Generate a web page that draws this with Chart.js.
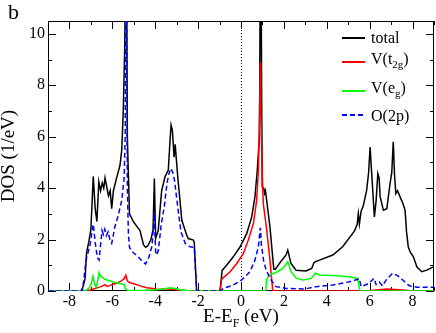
<!DOCTYPE html>
<html lang="en">
<head>
  <meta charset="UTF-8" />
  <title>DOS</title>
  <style>
    body {
      margin: 0;
      background: #fff;
    }
    #wrap {
      position: relative;
      width: 436px;
      height: 333px;
      font-family: "Liberation Serif", serif;
      color: #000;
    }
    #panel {
      position: absolute;
      left: 8px;
      top: 1px;
      font-size: 22px;
      line-height: 22px;
    }
    #xlabel {
      position: absolute;
      left: 0;
      width: 482px;
      text-align: center;
      top: 306px;
      font-size: 19px;
      line-height: 19px;
    }
    .sub {
      position: relative;
      top: 5px;
      font-size: 12px;
    }
    .row {
      position: absolute;
      left: 371px;
      font-size: 16px;
      line-height: 16px;
      white-space: nowrap;
    }
    .row .sub {
      font-size: 11px;
      top: 4px;
    }
    .swatch {
      position: absolute;
      left: 342px;
      width: 23px;
      height: 2px;
    }
  </style>
</head>
<body>
  <div id="wrap">
    <canvas id="dos"></canvas>
    <div id="panel">b</div>
    <div id="xlabel">E-E<span class="sub">F</span> (eV)</div>
    <div id="legend"></div>
  </div>

  <script src="https://cdn.jsdelivr.net/npm/chart.js"></script>
  <script>
    // tick labels
    const xTicks = [-8, -6, -4, -2, 0, 2, 4, 6, 8];
    const yTicks = [0, 2, 4, 6, 8, 10];
    const fermiEnergy = 0;

    // [E - EF (eV), DOS (1/eV)]
    const totalDos = [
      [-9, 0], [-7.45, 0], [-7.35, 0.2], [-7.27, 0.5], [-7.2, 1.5], [-7.1, 1.9], [-7.0, 2.4],
      [-6.89, 4.45], [-6.8, 3.2], [-6.72, 2.7], [-6.63, 4.25], [-6.55, 3.9], [-6.47, 4.2],
      [-6.4, 4.0], [-6.34, 4.4], [-6.25, 4.0], [-6.18, 3.7], [-6.1, 3.9], [-6.03, 3.2],
      [-5.95, 3.9], [-5.8, 4.4], [-5.64, 4.9], [-5.56, 5.5], [-5.49, 7.0], [-5.42, 9.5],
      [-5.36, 16], [-5.33, 12], [-5.3, 6], [-5.25, 4.5], [-5.2, 3.0], [-5.02, 2.7],
      [-4.71, 2.35], [-4.55, 1.8], [-4.45, 1.7], [-4.35, 1.75], [-4.2, 2.0], [-4.1, 2.4],
      [-4.04, 4.37], [-3.98, 2.05], [-3.86, 2.35], [-3.7, 3.9], [-3.54, 4.45], [-3.39, 4.7],
      [-3.31, 5.85], [-3.26, 6.45], [-3.2, 6.25], [-3.12, 5.2], [-3.07, 5.7], [-2.95, 4.45],
      [-2.76, 2.75], [-2.53, 2.17], [-2.46, 2.04], [-2.22, 1.98], [-2.18, 1.9], [-2.07, 0],
      [-0.98, 0], [-0.88, 0.8], [-0.67, 1.0], [-0.36, 1.33], [-0.04, 1.72], [0.27, 2.24],
      [0.5, 2.88], [0.65, 3.66], [0.76, 4.7], [0.86, 6.0], [0.92, 16], [0.96, 8], [0.99, 4.05],
      [1.06, 4.0], [1.1, 3.8], [1.14, 3.9], [1.35, 2.5], [1.48, 1.3], [1.53, 0.85], [1.6, 0.85],
      [1.79, 1.07], [2.1, 1.4], [2.18, 1.59], [2.33, 1.07], [2.57, 0.81], [3.03, 0.78],
      [3.3, 0.88], [3.4, 1.1], [3.47, 1.14], [3.66, 1.2], [4.28, 1.4], [4.74, 1.72],
      [5.21, 2.24], [5.3, 2.35], [5.42, 2.6], [5.47, 3.0], [5.52, 2.6], [5.6, 3.1], [5.7, 3.3],
      [5.86, 3.92], [5.95, 4.6], [6.02, 5.6], [6.1, 4.5], [6.22, 2.88], [6.3, 3.5], [6.38, 4.57],
      [6.44, 4.4], [6.49, 3.66], [6.64, 3.14], [6.8, 3.2], [6.95, 4.18], [7.03, 4.6], [7.1, 5.8],
      [7.16, 4.5], [7.22, 3.79], [7.3, 3.9], [7.42, 3.66], [7.55, 3.4], [7.65, 3.14], [7.72, 2.3],
      [7.8, 1.72], [7.9, 1.5], [8.04, 1.33], [8.2, 0.94], [8.43, 0.75], [8.66, 0.81], [8.97, 0.94],
      [9, 0.95]
    ];

    const t2gDos = [
      [-9, 0], [-7.2, 0], [-7.0, 0.05], [-6.8, 0.1], [-6.6, 0.15], [-6.45, 0.2], [-6.35, 0.25],
      [-6.25, 0.18], [-6.1, 0.22], [-6.0, 0.25], [-5.8, 0.3], [-5.6, 0.38], [-5.45, 0.48],
      [-5.37, 0.62], [-5.3, 0.4], [-5.2, 0.33], [-5.0, 0.28], [-4.7, 0.2], [-4.4, 0.13],
      [-4.1, 0.1], [-3.9, 0.06], [-3.6, 0.08], [-3.3, 0.08], [-3.0, 0.05], [-2.6, 0.02],
      [-2.1, 0], [-0.98, 0], [-0.9, 0.45], [-0.85, 0.5], [-0.51, 0.75], [-0.2, 1.07],
      [0.11, 1.46], [0.34, 1.98], [0.58, 2.63], [0.73, 3.53], [0.81, 4.7], [0.86, 6.64],
      [0.9, 8.9], [0.95, 6.0], [0.99, 4.5], [1.04, 3.4], [1.2, 2.37], [1.35, 1.2], [1.48, 0],
      [5.8, 0], [6.3, 0.04], [6.8, 0.08], [7.2, 0.06], [7.8, 0.02], [8.3, 0], [9, 0]
    ];

    const egDos = [
      [-9, 0], [-7.3, 0], [-7.1, 0.1], [-6.98, 0.3], [-6.9, 0.58], [-6.84, 0.3], [-6.76, 0.15],
      [-6.68, 0.4], [-6.62, 0.72], [-6.55, 0.58], [-6.45, 0.52], [-6.35, 0.45], [-6.2, 0.42],
      [-6.0, 0.36], [-5.8, 0.32], [-5.6, 0.28], [-5.45, 0.25], [-5.4, 0.1], [-5.3, 0.03],
      [-5.0, 0.02], [-4.5, 0.03], [-4.0, 0.05], [-3.6, 0.08], [-3.3, 0.13], [-3.1, 0.1],
      [-2.8, 0.04], [-2.4, 0.01], [-2.1, 0], [1.15, 0], [1.19, 0.45], [1.32, 0.62],
      [1.63, 0.72], [1.95, 0.88], [2.18, 1.14], [2.33, 0.75], [2.57, 0.5], [2.88, 0.43],
      [3.27, 0.49], [3.4, 0.62], [3.47, 0.69], [3.66, 0.62], [4.28, 0.6], [5.05, 0.55],
      [5.44, 0.49], [5.5, 0.2], [5.55, 0], [9, 0]
    ];

    const o2pDos = [
      [-9, 0], [-7.4, 0], [-7.32, 0.5], [-7.23, 1.2], [-7.1, 1.6], [-7.04, 1.8], [-6.95, 2.3],
      [-6.89, 2.6], [-6.8, 1.9], [-6.7, 1.3], [-6.62, 1.2], [-6.55, 1.8], [-6.48, 2.35],
      [-6.42, 2.2], [-6.35, 2.4], [-6.28, 2.15], [-6.2, 2.3], [-6.1, 1.95], [-6.03, 1.85],
      [-5.88, 2.5], [-5.72, 2.95], [-5.56, 3.53], [-5.45, 4.4], [-5.4, 6], [-5.36, 15],
      [-5.33, 9], [-5.3, 4], [-5.25, 2.2], [-5.2, 1.7], [-5.1, 1.55], [-4.79, 1.33],
      [-4.6, 1.15], [-4.45, 1.05], [-4.3, 1.3], [-4.15, 1.75], [-4.04, 3.0], [-3.98, 1.5],
      [-3.93, 1.4], [-3.85, 1.6], [-3.72, 2.6], [-3.58, 3.27], [-3.45, 4.2], [-3.35, 4.6],
      [-3.26, 4.77], [-3.18, 4.6], [-3.1, 4.3], [-2.95, 3.27], [-2.8, 2.3], [-2.6, 1.85],
      [-2.38, 1.72], [-2.18, 1.7], [-2.07, 0], [-0.98, 0], [-0.82, 0.1], [-0.36, 0.23],
      [0.03, 0.43], [0.42, 0.75], [0.65, 1.2], [0.81, 1.72], [0.9, 2.46], [0.95, 1.8],
      [1.05, 1.2], [1.17, 0.81], [1.4, 0.43], [1.63, 0.17], [2.1, 0.1], [3.0, 0.08],
      [3.5, 0.17], [4.28, 0.23], [5.05, 0.36], [5.52, 0.47], [5.6, 0.17], [5.98, 0.3],
      [6.2, 0.5], [6.3, 0.25], [6.45, 0.35], [6.6, 0.2], [6.77, 0.43], [7.07, 0.69],
      [7.3, 0.6], [7.54, 0.43], [7.85, 0.2], [8.2, 0.15], [9, 0.15]
    ];

    const seriesLabels = ['total', 'V(t<span class="sub">2g</span>)', 'V(e<span class="sub">g</span>)', 'O(2p)'];
    const legendY = [38, 62, 91, 115];      // swatch centre
    const legendTextTop = [30, 51, 80, 108];

    Chart.defaults.font.family = '"Liberation Serif", serif';
    Chart.defaults.color = '#000';

    function series(label, pts, color, dash, order) {
      return {
        label,
        data: pts.map(([x, y]) => ({ x, y })),
        borderColor: color,
        borderWidth: 1.5,
        borderDash: dash,
        pointRadius: 0,
        tension: 0,
        fill: false,
        order
      };
    }

    // frame, inward ticks on all four sides, dotted Fermi line
    const frame = {
      id: 'frame',
      beforeDatasetsDraw(chart) {
        const { ctx, chartArea: a, scales: { x, y } } = chart;
        ctx.save();
        ctx.strokeStyle = '#000';
        ctx.lineWidth = 1;
        ctx.strokeRect(a.left + 0.5, a.top + 0.5, a.right - a.left - 1, a.bottom - a.top - 1);
        ctx.beginPath();
        for (let v = -9; v <= 9; v++) {
          const px = Math.round(x.getPixelForValue(v)) + 0.5;
          const len = v % 2 === 0 ? 8 : 4;
          ctx.moveTo(px, a.bottom); ctx.lineTo(px, a.bottom - len);
          ctx.moveTo(px, a.top); ctx.lineTo(px, a.top + len);
        }
        for (let v = 0; v <= 10; v++) {
          const py = Math.round(y.getPixelForValue(v)) + 0.5;
          const len = v % 2 === 0 ? 8 : 4;
          ctx.moveTo(a.left, py); ctx.lineTo(a.left + len, py);
          ctx.moveTo(a.right, py); ctx.lineTo(a.right - len, py);
        }
        ctx.stroke();
        const fx = Math.round(x.getPixelForValue(fermiEnergy)) + 0.5;
        ctx.setLineDash([1, 2]);
        ctx.beginPath();
        ctx.moveTo(fx, a.top);
        ctx.lineTo(fx, a.bottom);
        ctx.stroke();
        ctx.restore();
      }
    };

    const datasets = [
      series(seriesLabels[0], totalDos, '#000000', [], 4),
      series(seriesLabels[1], t2gDos, '#ff0000', [], 3),
      series(seriesLabels[2], egDos, '#00ff00', [], 2),
      series(seriesLabels[3], o2pDos, '#0000ff', [5, 3], 1)
    ];

    new Chart(document.getElementById('dos'), {
      type: 'line',
      data: { datasets },
      options: {
        responsive: true,
        maintainAspectRatio: false,
        animation: false,
        layout: { padding: { top: 21, right: 2, left: 0, bottom: 0 } },
        plugins: { legend: { display: false }, tooltip: { enabled: false } },
        scales: {
          x: {
            type: 'linear',
            min: -9,
            max: 9,
            grid: { display: false, drawTicks: false },
            border: { display: false },
            ticks: { font: { size: 16 }, padding: 1, maxRotation: 0 },
            afterBuildTicks: s => { s.ticks = xTicks.map(v => ({ value: v })); },
            afterFit: s => { s.height = 42; }
          },
          y: {
            min: 0,
            max: 10.5,
            grid: { display: false, drawTicks: false },
            border: { display: false },
            ticks: { font: { size: 16 }, padding: 3 },
            afterBuildTicks: s => { s.ticks = yTicks.map(v => ({ value: v })); },
            afterFit: s => { s.width = 48; },
            title: {
              display: true,
              text: 'DOS (1/eV)',
              font: { size: 19, lineHeight: 1 },
              padding: 0
            }
          }
        }
      },
      plugins: [frame]
    });

    // legend with subscripts
    const legend = document.getElementById('legend');
    datasets.forEach((d, i) => {
      const sw = document.createElement('div');
      sw.className = 'swatch';
      sw.style.top = (legendY[i] - 1) + 'px';
      sw.style.background = d.borderDash.length
        ? `repeating-linear-gradient(90deg, ${d.borderColor} 0 5px, transparent 5px 8px)`
        : d.borderColor;
      legend.appendChild(sw);
      const row = document.createElement('div');
      row.className = 'row';
      row.style.top = legendTextTop[i] + 'px';
      row.innerHTML = d.label;
      legend.appendChild(row);
    });
  </script>
</body>
</html>
